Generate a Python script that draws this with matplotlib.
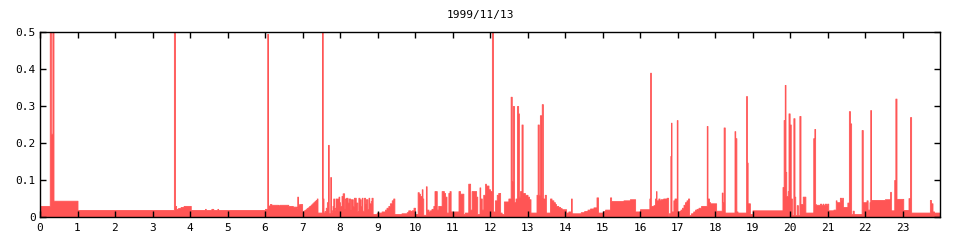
import numpy as np
import matplotlib
matplotlib.use("Agg")
import matplotlib.pyplot as plt

# step data: start hour of each step and its value
# 0h - 4h
t_night = [0.00, 0.26, 0.29, 0.33, 0.36, 1.00, 3.57, 3.60, 3.63, 3.68, 3.75, 3.83]
v_night = [0.030, 0.600, 0.225, 0.600, 0.044, 0.019, 0.600, 0.030, 0.022, 0.024, 0.027, 0.030]

# 4h - 8h
t_morning = [4.02, 4.40, 4.42, 4.57, 4.62, 4.73, 4.75, 6.00, 6.06, 6.08, 6.13, 6.17,
             6.35, 6.38, 6.62, 6.74, 6.84, 6.86, 6.88, 6.91, 6.93, 6.95, 6.99,
             7.02, 7.05, 7.08, 7.11, 7.14, 7.17, 7.20, 7.23, 7.26, 7.29, 7.32,
             7.35, 7.38, 7.40, 7.52, 7.54, 7.56, 7.59, 7.62, 7.65, 7.68, 7.70,
             7.74, 7.76, 7.78, 7.80, 7.82, 7.84, 7.86, 7.88, 7.90, 7.92, 7.94,
             7.96, 7.98]
v_morning = [0.019, 0.022, 0.019, 0.022, 0.019, 0.022, 0.019, 0.022, 0.495, 0.031,
             0.035, 0.033, 0.031, 0.033, 0.030, 0.028, 0.025, 0.055, 0.033, 0.035,
             0.032, 0.035, 0.014, 0.017, 0.019, 0.021, 0.024, 0.026, 0.029, 0.031,
             0.034, 0.037, 0.040, 0.043, 0.046, 0.050, 0.012, 0.600, 0.050, 0.012,
             0.016, 0.025, 0.040, 0.195, 0.010, 0.108, 0.012, 0.018, 0.030, 0.050,
             0.018, 0.025, 0.050, 0.035, 0.050, 0.020, 0.055, 0.040]

# 8h - 10.7h
t_forenoon = [8.00, 8.04, 8.07, 8.11, 8.13, 8.16, 8.20, 8.23, 8.27, 8.29, 8.34,
              8.37, 8.42, 8.46, 8.49, 8.52, 8.55, 8.58, 8.60, 8.64, 8.67, 8.69,
              8.73, 8.76, 8.78, 8.82, 8.84, 8.87, 8.98, 9.11, 9.20, 9.24, 9.29,
              9.33, 9.38, 9.42, 9.45, 9.64, 9.78, 9.82, 9.87, 9.91, 9.96, 10.00,
              10.07, 10.10, 10.13, 10.18, 10.20, 10.22, 10.29, 10.31, 10.36, 10.40,
              10.44, 10.49, 10.52, 10.58, 10.62]
v_forenoon = [0.030, 0.057, 0.064, 0.024, 0.050, 0.052, 0.039, 0.050, 0.022, 0.048,
              0.030, 0.052, 0.039, 0.016, 0.052, 0.048, 0.030, 0.052, 0.017, 0.052,
              0.037, 0.048, 0.021, 0.052, 0.037, 0.043, 0.052, 0.008, 0.012, 0.015,
              0.020, 0.025, 0.030, 0.037, 0.045, 0.050, 0.008, 0.010, 0.013, 0.018,
              0.016, 0.018, 0.025, 0.008, 0.067, 0.063, 0.057, 0.075, 0.050, 0.006,
              0.083, 0.020, 0.015, 0.018, 0.022, 0.030, 0.070, 0.020, 0.030]

# 10.7h - 16h
t_noon = [10.67, 10.71, 10.77, 10.80, 10.84, 10.89, 10.92, 10.95, 11.00, 11.04,
          11.16, 11.20, 11.29, 11.33, 11.42, 11.47, 11.51, 11.63, 11.66, 11.72,
          11.74, 11.78, 11.82, 11.87, 11.89, 11.96, 12.00, 12.05, 12.08, 12.13,
          12.18, 12.22, 12.27, 12.31, 12.37, 12.49, 12.55, 12.58, 12.61, 12.64,
          12.68, 12.72, 12.75, 12.77, 12.80, 12.84, 12.87, 12.93, 13.00, 13.04,
          13.08, 13.24, 13.27, 13.30, 13.33, 13.36, 13.38, 13.41, 13.46, 13.49,
          13.60, 13.64, 13.69, 13.73, 13.76, 13.82, 13.87, 13.91, 14.03, 14.09,
          14.16, 14.18, 14.20, 14.42, 14.51, 14.60, 14.67, 14.76, 14.84, 14.88,
          15.02, 15.07, 15.20, 15.23, 15.56, 15.73, 15.87]
v_noon = [0.030, 0.070, 0.065, 0.055, 0.012, 0.065, 0.070, 0.015, 0.012, 0.015,
          0.070, 0.063, 0.008, 0.012, 0.090, 0.020, 0.070, 0.055, 0.008, 0.080,
          0.050, 0.020, 0.060, 0.090, 0.085, 0.075, 0.070, 0.600, 0.015, 0.045,
          0.060, 0.065, 0.012, 0.008, 0.042, 0.050, 0.325, 0.097, 0.300, 0.040,
          0.050, 0.300, 0.280, 0.055, 0.070, 0.250, 0.065, 0.060, 0.055, 0.048,
          0.012, 0.060, 0.250, 0.060, 0.275, 0.053, 0.305, 0.050, 0.060, 0.012,
          0.050, 0.045, 0.040, 0.035, 0.030, 0.027, 0.024, 0.021, 0.012, 0.015,
          0.050, 0.005, 0.010, 0.013, 0.016, 0.020, 0.023, 0.026, 0.053, 0.012,
          0.016, 0.020, 0.053, 0.043, 0.045, 0.048, 0.015]

# 16h - 21.3h
t_afternoon = [16.00, 16.25, 16.27, 16.29, 16.36, 16.40, 16.43, 16.44, 16.49, 16.52,
               16.55, 16.62, 16.71, 16.75, 16.77, 16.81, 16.83, 16.84, 16.89, 16.92,
               16.96, 16.98, 17.00, 17.05, 17.08, 17.12, 17.16, 17.20, 17.24, 17.28,
               17.31, 17.36, 17.42, 17.47, 17.51, 17.56, 17.63, 17.78, 17.80, 17.84,
               17.87, 18.03, 18.18, 18.20, 18.23, 18.26, 18.52, 18.54, 18.57, 18.60,
               18.83, 18.85, 18.87, 18.93, 19.00, 19.80, 19.83, 19.86, 19.88, 19.90,
               19.94, 19.96, 19.99, 20.02, 20.05, 20.09, 20.12, 20.14, 20.18, 20.21,
               20.25, 20.28, 20.34, 20.41, 20.62, 20.65, 20.67, 20.69, 20.80, 20.83,
               20.87, 20.89, 20.93, 20.96, 20.99, 21.02, 21.16, 21.22, 21.24]
v_afternoon = [0.021, 0.050, 0.390, 0.030, 0.032, 0.050, 0.070, 0.045, 0.050, 0.045,
               0.048, 0.050, 0.052, 0.003, 0.010, 0.165, 0.255, 0.015, 0.045, 0.050,
               0.040, 0.262, 0.015, 0.016, 0.020, 0.025, 0.033, 0.040, 0.045, 0.050,
               0.005, 0.010, 0.015, 0.020, 0.022, 0.025, 0.030, 0.246, 0.050, 0.040,
               0.037, 0.017, 0.066, 0.040, 0.242, 0.012, 0.232, 0.213, 0.015, 0.012,
               0.327, 0.147, 0.037, 0.008, 0.018, 0.081, 0.262, 0.357, 0.122, 0.057,
               0.070, 0.280, 0.250, 0.050, 0.005, 0.267, 0.055, 0.005, 0.032, 0.005,
               0.273, 0.035, 0.055, 0.012, 0.213, 0.238, 0.035, 0.033, 0.036, 0.033,
               0.036, 0.033, 0.036, 0.033, 0.036, 0.018, 0.020, 0.045, 0.040]

# 21.3h - 24h
t_evening = [21.33, 21.36, 21.39, 21.41, 21.53, 21.57, 21.60, 21.63, 21.67, 21.70,
             21.91, 21.94, 22.04, 22.07, 22.12, 22.14, 22.16, 22.53, 22.67, 22.69,
             22.78, 22.81, 22.84, 23.02, 23.16, 23.18, 23.20, 23.23, 23.73, 23.76,
             23.80, 23.84]
v_evening = [0.052, 0.046, 0.052, 0.027, 0.039, 0.286, 0.253, 0.008, 0.017, 0.008,
             0.235, 0.040, 0.045, 0.020, 0.040, 0.289, 0.046, 0.048, 0.068, 0.018,
             0.100, 0.320, 0.049, 0.019, 0.051, 0.042, 0.270, 0.012, 0.046, 0.037,
             0.015, 0.012]

title = "1999/11/13"
x_ticks = list(range(24))
y_ticks = [0, 0.1, 0.2, 0.3, 0.4, 0.5]
y_labels = ["0", "0.1", "0.2", "0.3", "0.4", "0.5"]

t = np.array(t_night + t_morning + t_forenoon + t_noon + t_afternoon + t_evening + [24.0])
v = np.array(v_night + v_morning + v_forenoon + v_noon + v_afternoon + v_evening)
v = np.append(v, v[-1])

plt.rcParams['font.family'] = ['DejaVu Sans Mono']
plt.rcParams['font.size'] = 8

fig = plt.figure(figsize=(9.6, 2.4), dpi=100)
ax = fig.add_axes([40 / 960, 23 / 240, 900 / 960, 185 / 240])

# filled step curve, no antialiasing so 1px spikes stay solid
ax.fill_between(t, v, step='post', facecolor='#ff5555', edgecolor='#ff5555',
                linewidth=0.6, antialiased=False)

ax.set_xlim(0, 24)
ax.set_ylim(0, 0.5)
ax.set_xticks(x_ticks)
ax.set_yticks(y_ticks)
ax.set_yticklabels(y_labels)
ax.tick_params(direction='in', length=4, width=1, top=True, right=True,
               pad=3, colors='black')
ax.tick_params(axis='x', pad=4)
for s in ax.spines.values():
    s.set_linewidth(1)
ax.set_axisbelow(False)

fig.text(0.5, 1 - 15 / 240, title, ha='center', va='center')

fig.savefig("out.png", dpi=100)
